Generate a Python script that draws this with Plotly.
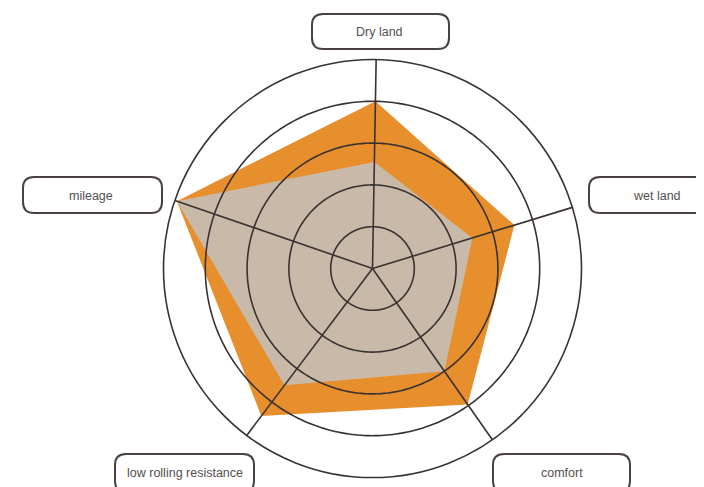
import numpy as np
import plotly.graph_objects as go

categories = ["Dry land", "wet land", "comfort", "low rolling resistance", "mileage"]
outer_values = [4.0, 3.55, 3.97, 4.42, 4.95]
inner_values = [2.55, 2.5, 3.0, 3.5, 4.95]
ring_values = [1, 2, 3, 4]
r_max = 5

OFF = 8  # page body margin
W, H = 704 - OFF, 487 - OFF
LINE = "#3a3232"
ORANGE = "#E88F2D"
BEIGE = "#C8B9A8"

n = len(categories)
angles = [i * 360.0 / n for i in range(n)]

def closed(v):
    return list(v) + [v[0]]

fig = go.Figure()
fig.add_trace(go.Scatterpolar(r=closed(outer_values), theta=closed(angles), mode="lines",
                              fill="toself", fillcolor=ORANGE, line=dict(width=0, color=ORANGE),
                              hoverinfo="skip", showlegend=False))
fig.add_trace(go.Scatterpolar(r=closed(inner_values), theta=closed(angles), mode="lines",
                              fill="toself", fillcolor=BEIGE, line=dict(width=0, color=BEIGE),
                              hoverinfo="skip", showlegend=False))
circ = np.linspace(0, 360, 361)
for rv in ring_values:
    fig.add_trace(go.Scatterpolar(r=[rv] * len(circ), theta=circ, mode="lines",
                                  line=dict(color=LINE, width=1.6), hoverinfo="skip", showlegend=False))
for a in angles:
    fig.add_trace(go.Scatterpolar(r=[0, r_max], theta=[a, a], mode="lines",
                                  line=dict(color=LINE, width=1.6), hoverinfo="skip", showlegend=False))

def px(x):
    return (x - OFF) / W

def py(y):
    return 1 - (y - OFF) / H

# polar geometry (screen pixels)
cx, cy, R = 372.5, 268.5, 209
fig.update_layout(
    width=W, height=H, margin=dict(l=0, r=0, t=0, b=0),
    paper_bgcolor="white", plot_bgcolor="white", showlegend=False,
    polar=dict(
        domain=dict(x=[px(cx - R), px(cx + R)], y=[py(cy + R), py(cy - R)]),
        bgcolor="white",
        radialaxis=dict(range=[0, r_max], showgrid=False, showline=False, showticklabels=False, ticks=""),
        angularaxis=dict(thetaunit="degrees", rotation=89, direction="clockwise",
                         tickvals=angles, ticktext=categories, showticklabels=False, ticks="",
                         showgrid=False, showline=True, linecolor=LINE, linewidth=1.6,
                         layer="above traces"),
    ),
)

# boxed labels (screen pixel boxes: x0, y0, x1, y1)
boxes = [
    (312, 14, 449, 49),
    (589, 177, 727, 213),
    (493, 454, 630, 492),
    (115, 454, 254, 492),
    (23, 177, 162, 213),
]
text_centers = [(380, 32), (657, 196), (562, 473), (185, 473), (91, 196)]

shapes = []
rr = 11
for (x0, y0, x1, y1) in boxes:
    p = (f"M {px(x0+rr)},{py(y0)} L {px(x1-rr)},{py(y0)} Q {px(x1)},{py(y0)} {px(x1)},{py(y0+rr)} "
         f"L {px(x1)},{py(y1-rr)} Q {px(x1)},{py(y1)} {px(x1-rr)},{py(y1)} "
         f"L {px(x0+rr)},{py(y1)} Q {px(x0)},{py(y1)} {px(x0)},{py(y1-rr)} "
         f"L {px(x0)},{py(y0+rr)} Q {px(x0)},{py(y0)} {px(x0+rr)},{py(y0)} Z")
    shapes.append(dict(type="path", path=p, xref="paper", yref="paper",
                       line=dict(color="#4a4242", width=2), fillcolor="white"))
fig.update_layout(shapes=shapes)

for cat, (tx, ty) in zip(categories, text_centers):
    fig.add_annotation(x=px(tx), y=py(ty), xref="paper", yref="paper", text=cat, showarrow=False,
                       font=dict(family="Liberation Sans Narrow, Liberation Sans, Arial", size=12.5, color="#555050"),
                       xanchor="center", yanchor="middle")

fig.write_html("out.html")
